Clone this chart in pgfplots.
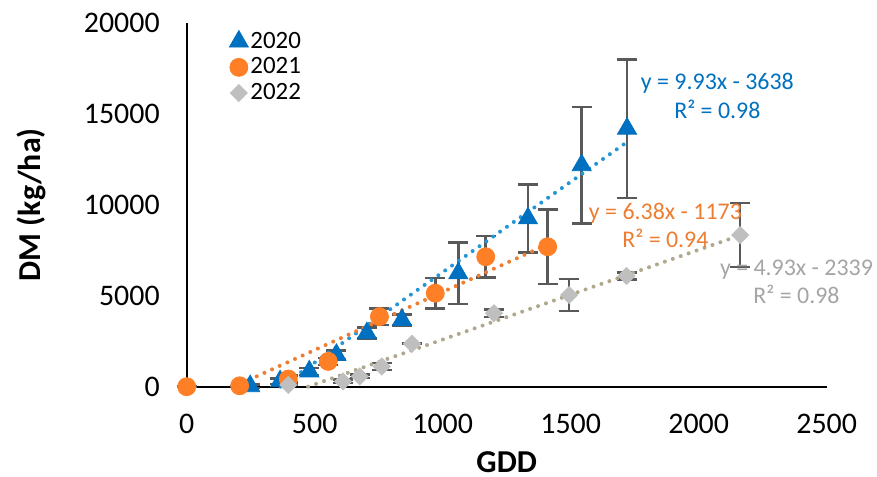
\documentclass[border=0pt]{standalone}
\usepackage{pgfplots}
\pgfplotsset{compat=1.18}
\usepackage{fontspec}
\setmainfont{Carlito}
\definecolor{blueS}{RGB}{0,112,192}
\definecolor{blueT}{RGB}{35,150,215}
\definecolor{orangeS}{RGB}{255,127,39}
\definecolor{orangeT}{RGB}{237,125,49}
\definecolor{grayS}{RGB}{191,191,191}
\definecolor{grayT}{RGB}{175,168,140}
\definecolor{grayL}{RGB}{165,165,165}
\definecolor{errgray}{RGB}{89,89,89}

\pgfplotstableread{
x y e
248 30 100
365 300 150
479 840 200
585 1750 250
704 2940 300
841 3670 300
1061 6230 1690
1333 9250 1870
1543 12170 3190
1720 14180 3800
}\tA
\pgfplotstableread{
x y e
0 0 0
207 50 0
397 420 200
553 1390 200
753 3850 460
971 5140 830
1168 7140 1130
1410 7690 2050
}\tB
\pgfplotstableread{
x y e
397 100 0
611 290 100
676 565 100
762 1110 200
880 2360 0
1200 4040 200
1494 5040 870
1718 6085 200
2162 8330 1760
}\tC

\begin{document}
\begin{tikzpicture}
\path[use as bounding box] (-93.35bp,-45.15bp) rectangle (345.15bp,193.35bp);
\begin{axis}[
  at={(0,0)}, anchor=south west,
  scale only axis, width=320bp, height=182bp,
  xmin=0, xmax=2500, ymin=0, ymax=20000,
  axis x line*=bottom, axis y line*=left,
  axis line style={line width=1bp, black},
  xtick={0,500,...,2500}, ytick={0,5000,...,20000},
  major tick length=0pt,
  scaled ticks=false,
  tick label style={font=\fontsize{15}{18}\selectfont},
  /pgf/number format/assume math mode=true,
  /pgf/number format/set thousands separator={},
  xticklabel style={yshift=-10bp},
  yticklabel style={xshift=-10bp},
  xlabel={\textbf{GDD}},
  ylabel={\textbf{DM (kg/ha)}},
  label style={font=\fontsize{16}{19}\selectfont},
  x label style={at={([yshift=-37.5bp]axis description cs:0.5,0)}, anchor=center},
  y label style={at={([xshift=-77.5bp]axis description cs:0,0.5)}, anchor=center},
  clip=false,
  legend style={draw=none, fill=none, at={(axis description cs:0.066,0.981)}, anchor=north west,
    font=\fontsize{12.5}{14}\selectfont, row sep=1.3bp, inner sep=0pt, nodes={inner sep=1bp}},
  legend cell align=left,
  legend image code/.code={\draw[mark repeat=2,mark phase=2] plot coordinates {(0bp,0bp)(5bp,0bp)(10bp,0bp)};},
  error bars/y dir=both, error bars/y explicit,
  error bars/error bar style={line width=1.25bp, errgray, solid},
  error bars/error mark options={rotate=90, mark size=5bp, line width=1.25bp, errgray},
]
\addplot[only marks, mark=triangle*, mark size=5.5bp, mark options={fill=blueS, draw=blueS}, blueS]
  table[x=x, y=y, y error=e] {\tA};
\addlegendentry{2020}
\addplot[only marks, mark=*, mark size=4.5bp, mark options={fill=orangeS, draw=orangeS}, orangeS]
  table[x=x, y=y, y error=e] {\tB};
\addlegendentry{2021}
\addplot[only marks, mark=square*, mark size=3bp, mark options={fill=grayS, draw=grayS, rotate=45}, grayS]
  table[x=x, y=y, y error=e] {\tC};
\addlegendentry{2022}

\addplot[blueT, line width=2bp, dash pattern=on 0pt off 4.2bp, line cap=round, forget plot, error bars/y dir=none]
  coordinates {(366.4,0) (1720,13442)};
\addplot[orangeT, line width=2bp, dash pattern=on 0pt off 4.2bp, line cap=round, forget plot, error bars/y dir=none]
  coordinates {(183.9,0) (1410,7823)};
\addplot[grayT, line width=2bp, dash pattern=on 0pt off 4.2bp, line cap=round, forget plot, error bars/y dir=none]
  coordinates {(474.4,0) (2162,8320)};

\node[text=blueS, align=center, font=\fontsize{12}{14.5}\selectfont] at (axis cs:2073,16000) {y = 9.93x - 3638\\R² = 0.98};
\node[text=orangeT, align=center, font=\fontsize{12}{14}\selectfont] at (axis cs:1870,8885) {y = 6.38x - 1173\\R² = 0.94};
\node[text=grayL, align=center, font=\fontsize{12}{14}\selectfont] at (axis cs:2382,5750) {y = 4.93x - 2339\\R² = 0.98};
\end{axis}
\end{tikzpicture}
\end{document}
